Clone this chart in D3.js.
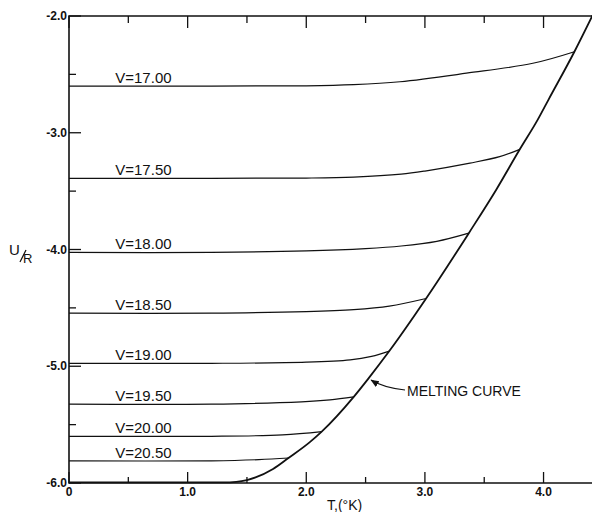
<!DOCTYPE html>
<html>
<head>
<meta charset="utf-8">
<script src="https://cdn.jsdelivr.net/npm/d3@7"></script>
<style>
    body { margin: 0; background: #fff; }
    svg { display: block; }
    text { font-family: "Liberation Sans", Arial, sans-serif; fill: #111; }
</style>
</head>
<body>
<div id="chart"></div>
<script>
(function () {
    "use strict";

    // axis ticks
    const xMajorTicks = [0, 1, 2, 3, 4];
    const xTickLabels = ["0", "1.0", "2.0", "3.0", "4.0"];
    const xMinorTicks = [0.5, 1.5, 2.5, 3.5];
    const yMajorTicks = [-2, -3, -4, -5, -6];
    const yTickLabels = ["-2.0", "-3.0", "-4.0", "-5.0", "-6.0"];
    const yMinorTicks = [-2.5, -3.5, -4.5, -5.5];

    // isochores: [T (K), U/R]
    const volumeLabels = ["V=17.00", "V=17.50", "V=18.00", "V=18.50", "V=19.00", "V=19.50", "V=20.00", "V=20.50"];
    const v1700 = [[0, -2.6], [1.2, -2.6], [2.0, -2.598], [2.4, -2.588], [2.79, -2.563], [3.35, -2.49], [3.91, -2.405], [4.26, -2.306]];
    const v1750 = [[0, -3.39], [1.2, -3.39], [2.0, -3.388], [2.4, -3.38], [2.8, -3.355], [3.0, -3.328], [3.38, -3.26], [3.63, -3.205], [3.8, -3.142]];
    const v1800 = [[0, -4.025], [1.2, -4.025], [2.0, -4.012], [2.5, -3.992], [2.8, -3.97], [3.1, -3.93], [3.37, -3.86]];
    const v1850 = [[0, -4.545], [1.2, -4.545], [2.0, -4.532], [2.4, -4.515], [2.7, -4.485], [3.01, -4.42]];
    const v1900 = [[0, -4.975], [1.2, -4.975], [2.0, -4.965], [2.37, -4.945], [2.55, -4.915], [2.7, -4.87]];
    const v1950 = [[0, -5.325], [1.2, -5.325], [1.96, -5.305], [2.2, -5.288], [2.4, -5.262]];
    const v2000 = [[0, -5.6], [1.2, -5.6], [1.8, -5.588], [2.13, -5.56]];
    const v2050 = [[0, -5.81], [1.2, -5.81], [1.6, -5.8], [1.85, -5.786]];
    const isochores = [v1700, v1750, v1800, v1850, v1900, v1950, v2000, v2050];

    // melting curve
    const meltingCurve = [[0, -5.995], [1.3, -5.995], [1.41, -5.99], [1.5, -5.975], [1.72, -5.88], [1.85, -5.786],
        [2.03, -5.65], [2.13, -5.56], [2.4, -5.262], [2.52, -5.11], [2.7, -4.87], [3.01, -4.42], [3.37, -3.86],
        [3.6, -3.49], [3.8, -3.142], [3.95, -2.89], [4.04, -2.72], [4.26, -2.306], [4.42, -1.98]];

    const width = 592;
    const height = 512;
    const left = 69, right = 591, top = 16, bottom = 483;

    const x = d3.scaleLinear().domain([0, 4.4]).range([left, right]);
    const y = d3.scaleLinear().domain([-6, -2]).range([bottom, top]);

    const svg = d3.select("#chart").append("svg").attr("width", width).attr("height", height);

    svg.append("clipPath").attr("id", "plot-clip")
        .append("rect").attr("x", left).attr("y", top - 1).attr("width", right - left + 2).attr("height", bottom - top + 2);

    // frame: left, bottom and top lines
    svg.append("path")
        .attr("d", `M${right + 2},${top}H${left}V${bottom}H${right + 2}`)
        .attr("fill", "none").attr("stroke", "#111").attr("stroke-width", 1.6);

    // ticks, all pointing inward
    const tickGroup = svg.append("g").attr("stroke", "#111").attr("stroke-width", 1.3);
    xMajorTicks.forEach((t) => {
        tickGroup.append("line").attr("x1", x(t)).attr("x2", x(t)).attr("y1", bottom).attr("y2", bottom - 11);
        tickGroup.append("line").attr("x1", x(t)).attr("x2", x(t)).attr("y1", top).attr("y2", top + 12);
    });
    xMinorTicks.forEach((t) => {
        tickGroup.append("line").attr("x1", x(t)).attr("x2", x(t)).attr("y1", bottom).attr("y2", bottom - 6);
        tickGroup.append("line").attr("x1", x(t)).attr("x2", x(t)).attr("y1", top).attr("y2", top + 7);
    });
    yMajorTicks.forEach((v) => {
        tickGroup.append("line").attr("x1", left).attr("x2", left + 12).attr("y1", y(v)).attr("y2", y(v));
    });
    yMinorTicks.forEach((v) => {
        tickGroup.append("line").attr("x1", left).attr("x2", left + 7).attr("y1", y(v)).attr("y2", y(v));
    });

    // tick labels
    svg.append("g").selectAll("text").data(xMajorTicks).join("text")
        .attr("x", (d) => x(d)).attr("y", 496)
        .attr("text-anchor", "middle").attr("font-size", 12).attr("font-weight", "bold")
        .text((d, i) => xTickLabels[i]);
    svg.append("g").selectAll("text").data(yMajorTicks).join("text")
        .attr("x", 67).attr("y", (d) => y(d) + 4)
        .attr("text-anchor", "end").attr("font-size", 12).attr("font-weight", "bold")
        .text((d, i) => yTickLabels[i]);

    // axis titles
    svg.append("text").attr("x", 327).attr("y", 510).attr("font-size", 14).text("T,(°K)");
    const yTitle = svg.append("g");
    yTitle.append("text").attr("x", 9).attr("y", 255).attr("font-size", 15).text("U");
    yTitle.append("line").attr("x1", 20).attr("y1", 262).attr("x2", 26).attr("y2", 250)
        .attr("stroke", "#111").attr("stroke-width", 1.2);
    yTitle.append("text").attr("x", 23).attr("y", 263).attr("font-size", 13).text("R");

    const isoLine = d3.line().x((d) => x(d[0])).y((d) => y(d[1])).curve(d3.curveCatmullRom.alpha(0.5));
    const meltLine = d3.line().x((d) => x(d[0])).y((d) => y(d[1])).curve(d3.curveMonotoneX);
    const plot = svg.append("g").attr("clip-path", "url(#plot-clip)");

    // isochores with their labels
    plot.selectAll(".isochore").data(isochores).join("path")
        .attr("class", "isochore")
        .attr("d", isoLine)
        .attr("fill", "none").attr("stroke", "#111").attr("stroke-width", 1.2);

    svg.append("g").selectAll("text").data(isochores).join("text")
        .attr("x", x(0.39)).attr("y", (d) => y(d[0][1]) - 3)
        .attr("font-size", 15)
        .text((d, i) => volumeLabels[i]);

    // melting curve
    plot.append("path").datum(meltingCurve)
        .attr("d", meltLine)
        .attr("fill", "none").attr("stroke", "#111").attr("stroke-width", 1.8);

    // melting curve annotation with arrow
    svg.append("defs").append("marker")
        .attr("id", "arrow").attr("viewBox", "0 0 10 10").attr("refX", 9).attr("refY", 5)
        .attr("markerWidth", 7).attr("markerHeight", 7).attr("orient", "auto")
        .append("path").attr("d", "M0,1L10,5L0,9Z").attr("fill", "#111");
    svg.append("path")
        .attr("d", `M405,390 Q384,388 ${x(2.53) + 2},${y(-5.11) + 1}`)
        .attr("fill", "none").attr("stroke", "#111").attr("stroke-width", 1.2)
        .attr("marker-end", "url(#arrow)");
    svg.append("text").attr("x", 407).attr("y", 396).attr("font-size", 14).text("MELTING CURVE");
})();
</script>
</body>
</html>
